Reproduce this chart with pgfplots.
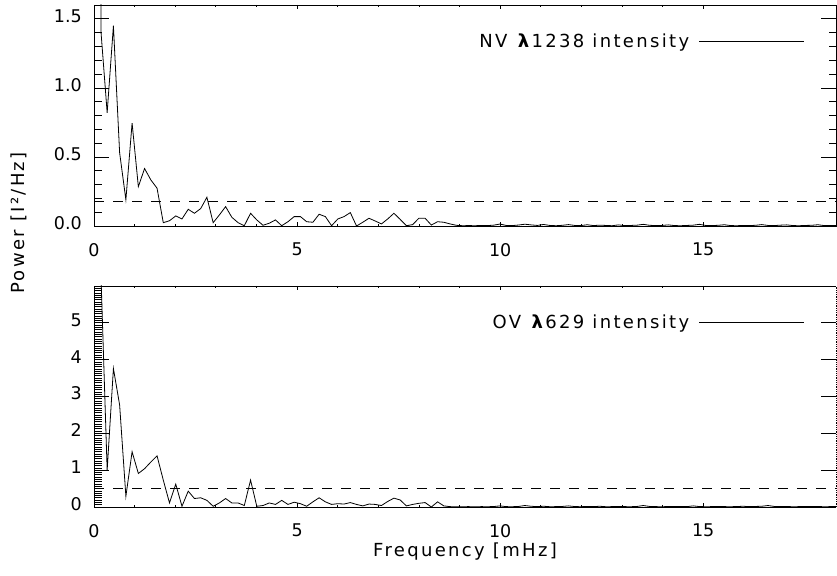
\documentclass[border=0pt]{standalone}
\usepackage{pgfplots}
\pgfplotsset{compat=1.18}
\usepackage{pgfplotstable}
\usepackage{fontspec}
\setmainfont{DejaVu Sans}
\newfontfamily\lbl{DejaVu Sans}[LetterSpace=13]

\pgfplotstableread{
f nv ov
0.017 40 60
0.171 1.41 6.3
0.324 0.82 1.00
0.478 1.45 3.76
0.631 0.53 2.77
0.785 0.19 0.29
0.938 0.745 1.50
1.092 0.285 0.91
1.245 0.416 1.04
1.399 0.334 1.22
1.552 0.274 1.39
1.706 0.024 0.73
1.859 0.038 0.11
2.013 0.073 0.62
2.166 0.051 0.02
2.320 0.121 0.43
2.473 0.092 0.23
2.627 0.126 0.25
2.780 0.208 0.18
2.934 0.024 0.02
3.087 0.080 0.11
3.241 0.140 0.23
3.394 0.063 0.11
3.548 0.024 0.11
3.701 0.002 0.04
3.855 0.092 0.73
4.008 0.044 0.02
4.162 0.005 0.04
4.315 0.020 0.11
4.469 0.044 0.07
4.622 0.002 0.18
4.776 0.031 0.07
4.929 0.068 0.13
5.083 0.068 0.09
5.236 0.031 0.02
5.390 0.027 0.14
5.543 0.085 0.25
5.697 0.068 0.14
5.850 0.002 0.07
6.004 0.051 0.09
6.157 0.068 0.08
6.311 0.097 0.12
6.464 0.000 0.07
6.618 0.027 0.03
6.771 0.056 0.08
6.925 0.036 0.07
7.078 0.015 0.04
7.232 0.051 0.15
7.385 0.092 0.24
7.539 0.048 0.19
7.692 0.002 0.03
7.846 0.010 0.07
7.999 0.056 0.10
8.153 0.056 0.12
8.306 0.007 0.00
8.460 0.031 0.14
8.613 0.027 0.03
8.767 0.015 0.01
8.920 0.005 0.005
9.074 0.002 0.008
9.227 0.003 0.010
9.381 0.002 0.005
9.534 0.004 0.010
9.688 0.003 0.008
9.841 0.006 0.012
9.995 0.014 0.030
10.148 0.004 0.010
10.302 0.003 0.008
10.455 0.007 0.015
10.609 0.013 0.040
10.762 0.008 0.020
10.916 0.004 0.010
11.069 0.011 0.020
11.223 0.004 0.008
11.376 0.002 0.010
11.530 0.005 0.015
11.683 0.010 0.030
11.837 0.004 0.012
11.990 0.003 0.008
12.144 0.009 0.015
12.297 0.003 0.010
12.451 0.006 0.020
12.604 0.004 0.008
12.758 0.002 0.010
12.911 0.008 0.015
13.065 0.003 0.010
13.218 0.004 0.008
13.372 0.006 0.015
13.525 0.012 0.040
13.679 0.005 0.015
13.832 0.003 0.010
13.986 0.004 0.008
14.139 0.008 0.012
14.293 0.003 0.010
14.446 0.002 0.015
14.600 0.004 0.010
14.753 0.006 0.030
14.907 0.012 0.012
15.060 0.004 0.008
15.214 0.003 0.010
15.367 0.005 0.015
15.521 0.009 0.010
15.674 0.003 0.008
15.828 0.002 0.012
15.981 0.004 0.020
16.135 0.003 0.010
16.288 0.005 0.015
16.442 0.010 0.020
16.595 0.004 0.040
16.749 0.003 0.015
16.902 0.006 0.010
17.056 0.008 0.012
17.209 0.003 0.008
17.363 0.002 0.010
17.516 0.004 0.015
17.670 0.005 0.010
17.823 0.009 0.012
17.977 0.003 0.008
18.130 0.004 0.010
18.284 0.003 0.010
}\data

\pgfplotsset{
  idl/.style={
    scale only axis, width=742pt, height=221pt,
    xmin=0, xmax=18.27,
    xtick={0,5,10,15}, minor x tick num=4,
    tick align=inside,
    axis line style={line width=0.8pt, -},
    every tick/.style={black, line width=0.7pt},
    xtick style={/pgfplots/major tick length=4.4pt, /pgfplots/minor tick length=2.2pt},
    ytick style={/pgfplots/major tick length=15pt, /pgfplots/minor tick length=7.5pt},
    tick label style={font=\fontsize{17.5}{20}\selectfont},
    /pgf/number format/assume math mode=true,
    xticklabel style={anchor=north, inner sep=0pt, yshift=-17pt},
    yticklabel style={anchor=east, inner sep=0pt, xshift=-12pt, yshift=3pt},
    legend plot pos=right, legend cell align=right,
    legend image code/.code={\path[draw=none, fill=none] (0pt,-1pt) rectangle (115pt,1pt);\draw[##1, line width=0.8pt] (10pt,0pt) -- (115pt,0pt);},
    legend style={draw=none, fill=none, inner sep=0pt, at={(0.958,0.837)}, anchor=east,
      font=\lbl\fontsize{18}{20}\selectfont, nodes={inner sep=0pt}},
  }
}

\begin{document}
\begin{tikzpicture}
\useasboundingbox (0pt,0pt) rectangle (837pt,575pt);

% top panel
\begin{axis}[idl, at={(94pt,349pt)}, anchor=south west,
  ymin=0, ymax=1.6, ytick={0,0.5,1,1.5}, minor y tick num=4,
  yticklabel style={/pgf/number format/.cd, fixed, fixed zerofill, precision=1}]
\addplot[forget plot, line width=0.8pt, dash pattern=on 10pt off 9pt] coordinates {(0,0.18) (18.27,0.18)};
\addplot[black, line width=0.8pt] table[x=f, y=nv] {\data};
\addlegendentry{NV \textbf{λ}1238 intensity}
\end{axis}

% bottom panel
\begin{axis}[idl, at={(94pt,68pt)}, anchor=south west,
  axis x line*=box, axis y line*=left,
  ymin=0, ymax=6, ytick={0,1,2,3,4,5,6}, yticklabels={0,1,2,3,4,5,}, minor y tick num=15]
\addplot[forget plot, line width=0.8pt, dash pattern=on 10pt off 9pt] coordinates {(0,0.5) (18.27,0.5)};
\addplot[black, line width=0.8pt] table[x=f, y=ov] {\data};
\addlegendentry{OV \textbf{λ}629 intensity}
\end{axis}
\begin{axis}[idl, at={(94pt,68pt)}, anchor=south west,
  axis x line=none, axis y line*=right,
  axis line style={line width=0.8pt, densely dotted, -},
  ymin=0, ymax=6, ytick={1,2,3,4,5}, yticklabels={}, minor y tick num=0]
\addplot[draw=none] coordinates {(0,0)};
\end{axis}

\node[font=\lbl\fontsize{18}{20}\selectfont, anchor=base] at (465pt,18.5pt) {Frequency [mHz]};
\node[font=\lbl\fontsize{18}{20}\selectfont, rotate=90, anchor=base] at (24.5pt,352pt) {Power [I²/Hz]};
\end{tikzpicture}
\end{document}
